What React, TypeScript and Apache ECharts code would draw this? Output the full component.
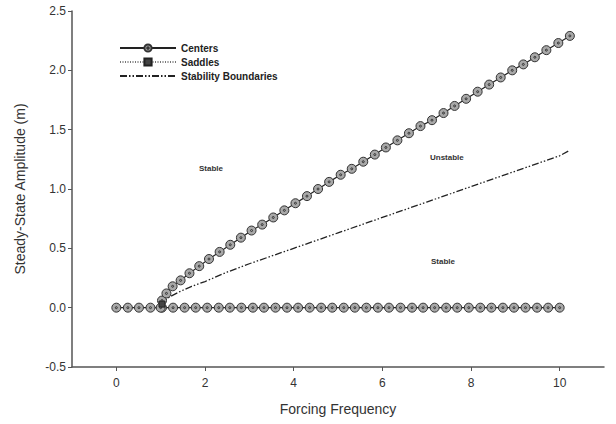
import React, { useEffect, useRef } from "react";
import * as echarts from "echarts";

// Upper branch of centers (frequency, amplitude)
const upperFreq = [1.0, 1.03, 1.13, 1.27, 1.45, 1.65, 1.87, 2.09, 2.33, 2.57, 2.81, 3.05, 3.29, 3.54, 3.79, 4.04, 4.3, 4.55, 4.8, 5.06, 5.31, 5.57, 5.83, 6.08, 6.34, 6.6, 6.86, 7.12, 7.38, 7.63, 7.89, 8.15, 8.41, 8.67, 8.93, 9.18, 9.44, 9.7, 9.97, 10.23];
const upperAmp = [0.0, 0.06, 0.12, 0.18, 0.23, 0.29, 0.35, 0.41, 0.47, 0.53, 0.59, 0.65, 0.7, 0.76, 0.82, 0.88, 0.94, 1.0, 1.06, 1.12, 1.17, 1.23, 1.29, 1.35, 1.41, 1.47, 1.53, 1.58, 1.64, 1.7, 1.76, 1.82, 1.88, 1.94, 2.0, 2.05, 2.11, 2.17, 2.23, 2.29];

// Trivial branch of centers
const lowerFreq = [0, 0.26, 0.51, 0.77, 1.03, 1.28, 1.54, 1.79, 2.05, 2.31, 2.56, 2.82, 3.08, 3.33, 3.59, 3.85, 4.1, 4.36, 4.62, 4.87, 5.13, 5.38, 5.64, 5.9, 6.15, 6.41, 6.67, 6.92, 7.18, 7.44, 7.69, 7.95, 8.21, 8.46, 8.72, 8.97, 9.23, 9.49, 9.74, 10.0];
const lowerAmp = lowerFreq.map(() => 0);

// Saddles
const saddleFreq = [1.03];
const saddleAmp = [0.03];

// Stability boundary
const boundFreq = [1.0, 1.05, 1.1, 1.2, 1.4, 1.7, 2.0, 2.5, 3.0, 4.0, 5.0, 6.0, 7.0, 8.0, 9.0, 10.0, 10.2];
const boundAmp = [0.0, 0.04, 0.06, 0.09, 0.13, 0.18, 0.22, 0.3, 0.37, 0.5, 0.63, 0.76, 0.89, 1.02, 1.15, 1.28, 1.32];

const xTicks = [0, 2, 4, 6, 8, 10];

const zip = (xs: number[], ys: number[]) => xs.map((x, i) => [x, ys[i]]);

const centerSymbol =
  "path://M0,-5A5,5,0,1,1,0,5A5,5,0,1,1,0,-5ZM0,-1.1A1.1,1.1,0,1,1,0,1.1A1.1,1.1,0,1,1,0,-1.1Z";

const FONT = "Liberation Sans, Arial, sans-serif";

export default function App() {
  const ref = useRef<HTMLDivElement>(null);
  useEffect(() => {
    if (!ref.current) return;
    const chart = echarts.init(ref.current, null, { renderer: "svg" });
    const centerItem = { color: "#a8a8a8", borderColor: "#333", borderWidth: 1 };
    chart.setOption({
      animation: false,
      backgroundColor: "#fff",
      textStyle: { fontFamily: FONT },
      grid: { left: 72, right: 12, top: 11, bottom: 57, containLabel: false },
      legend: {
        orient: "vertical",
        left: 114,
        top: 38,
        itemWidth: 56,
        itemHeight: 9,
        itemGap: 4,
        textStyle: { fontFamily: FONT, fontSize: 10, fontWeight: "bold", color: "#222" },
        data: ["Centers", "Saddles", "Stability Boundaries"],
      },
      xAxis: {
        type: "value",
        min: -1,
        max: 11,
        interval: 1,
        name: "Forcing Frequency",
        nameLocation: "middle",
        nameGap: 35,
        nameTextStyle: { fontFamily: FONT, fontSize: 14, color: "#333" },
        axisLine: { onZero: false, lineStyle: { color: "#555", width: 1.5 } },
        axisTick: { show: true, length: 4, customValues: xTicks, lineStyle: { color: "#555" } },
        axisLabel: { customValues: xTicks, margin: 10, fontSize: 12, color: "#333", fontFamily: FONT },
        splitLine: { show: false },
      },
      yAxis: {
        type: "value",
        min: -0.5,
        max: 2.5,
        interval: 0.5,
        name: "Steady-State Amplitude (m)",
        nameLocation: "middle",
        nameGap: 45,
        nameTextStyle: { fontFamily: FONT, fontSize: 14, color: "#333" },
        axisLine: { show: true, onZero: false, lineStyle: { color: "#555", width: 1.5 } },
        axisTick: { show: true, length: 4, lineStyle: { color: "#555" } },
        axisLabel: {
          margin: 6,
          fontSize: 12,
          color: "#333",
          fontFamily: FONT,
          formatter: (v: number) => v.toFixed(1),
        },
        splitLine: { show: false },
      },
      graphic: [
        { type: "text", left: 199, top: 164, style: { text: "Stable", font: "bold 8px " + FONT, fill: "#333" } },
        { type: "text", left: 430, top: 153, style: { text: "Unstable", font: "bold 8px " + FONT, fill: "#333" } },
        { type: "text", left: 431, top: 257, style: { text: "Stable", font: "bold 8px " + FONT, fill: "#333" } },
      ],
      series: [
        {
          name: "Stability Boundaries",
          type: "line",
          data: zip(boundFreq, boundAmp),
          showSymbol: false,
          symbol: "none",
          itemStyle: { color: "#222", opacity: 0 },
          lineStyle: { color: "#222", width: 1.3, opacity: 1, type: [7, 2, 1.5, 2, 1.5, 2] },
          z: 2,
        },
        {
          name: "Centers",
          type: "line",
          data: zip(lowerFreq, lowerAmp),
          symbol: centerSymbol,
          symbolSize: 9,
          lineStyle: { color: "#222", width: 1.2 },
          itemStyle: centerItem,
          z: 3,
        },
        {
          name: "Centers",
          type: "line",
          data: zip(upperFreq, upperAmp),
          symbol: centerSymbol,
          symbolSize: 9,
          lineStyle: { color: "#222", width: 1.2 },
          itemStyle: centerItem,
          z: 3,
        },
        {
          name: "Saddles",
          type: "line",
          data: zip(saddleFreq, saddleAmp),
          symbol: "rect",
          symbolSize: 6,
          lineStyle: { color: "#777", width: 1, type: [1, 1.5] },
          itemStyle: { color: "#444", borderColor: "#222", borderWidth: 1 },
          z: 4,
        },
      ],
    });
    return () => chart.dispose();
  }, []);
  return (
    <div
      ref={ref}
      style={{ position: "fixed", left: 0, top: 0, width: 616, height: 424, background: "#fff" }}
    />
  );
}
